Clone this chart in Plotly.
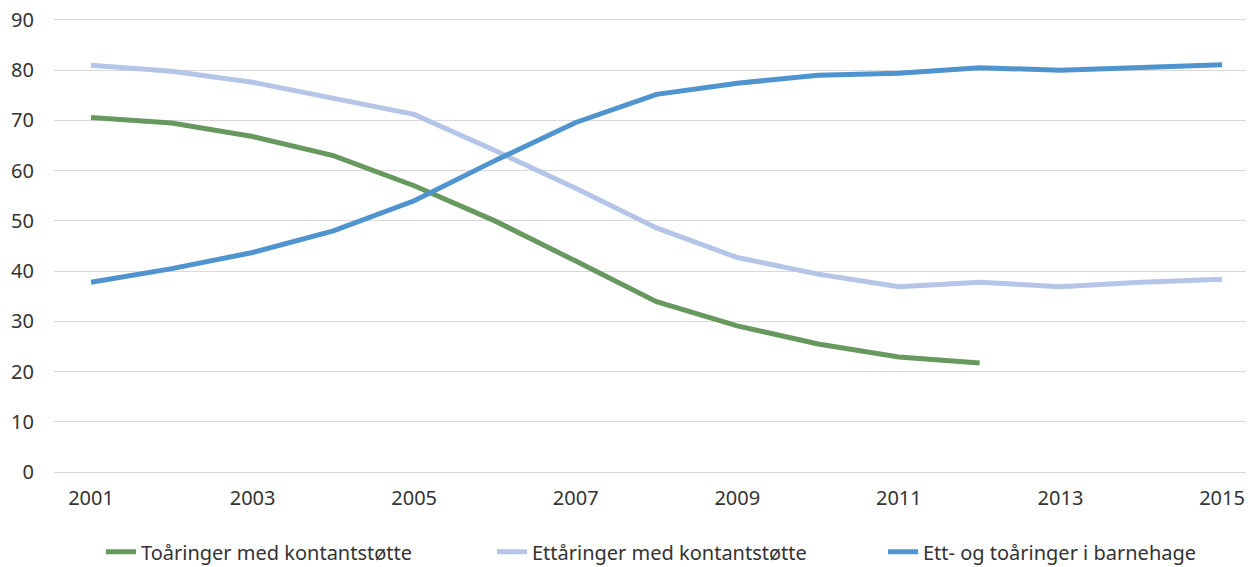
import plotly.graph_objects as go

years = list(range(2001, 2016))
toaringer_kontantstotte = [70.6, 69.5, 66.8, 63.0, 57.0, 50.0, 42.0, 33.9, 29.1, 25.5, 22.9, 21.7, None, None, None]
ettaringer_kontantstotte = [81.0, 79.8, 77.6, 74.4, 71.2, 64.0, 56.5, 48.6, 42.7, 39.4, 36.9, 37.8, 36.9, 37.8, 38.4]
barnehage = [37.8, 40.5, 43.7, 48.0, 54.0, 62.0, 69.6, 75.2, 77.4, 79.0, 79.4, 80.5, 80.0, 80.5, 81.1]
series_names = ["Toåringer med kontantstøtte", "Ettåringer med kontantstøtte", "Ett- og toåringer i barnehage"]
x_ticks = [2001, 2003, 2005, 2007, 2009, 2011, 2013, 2015]
y_ticks = [0, 10, 20, 30, 40, 50, 60, 70, 80, 90]

colors = ["#67995f", "#b4c5e7", "#4f93cf"]
FONT = "Noto Sans"
GRID = "#d9d9d9"

fig = go.Figure()
for name, vals, col in zip(series_names, [toaringer_kontantstotte, ettaringer_kontantstotte, barnehage], colors):
    fig.add_trace(go.Scatter(x=years, y=vals, name=name, mode="lines",
                             line=dict(color=col, width=5), connectgaps=False))

fig.update_layout(
    width=1246, height=559,
    margin=dict(l=46, r=0, t=12, b=95, autoexpand=False),
    paper_bgcolor="white", plot_bgcolor="white",
    font=dict(family=FONT, size=20, color="#333333"),
    showlegend=True,
    legend=dict(orientation="h", xref="container", yref="paper",
                x=0.0746, y=-0.1765, xanchor="left", yanchor="middle",
                entrywidth=346, entrywidthmode="pixels",
                font=dict(family=FONT, size=20, color="#333333"),
                bgcolor="rgba(0,0,0,0)"),
    xaxis=dict(range=[2000.542, 2015.396], tickmode="array", tickvals=x_ticks,
               ticktext=[str(t) for t in x_ticks], showgrid=False, zeroline=False,
               showline=True, mirror=True, linecolor=GRID, linewidth=1.3,
               ticks="outside", ticklen=8, tickcolor="rgba(0,0,0,0)",
               ticklabeloverflow="allow",
               tickfont=dict(family=FONT, size=20, color="#333333")),
    yaxis=dict(range=[0, 90], tickmode="array", tickvals=y_ticks,
               showgrid=True, gridcolor=GRID, gridwidth=1.3, zeroline=False,
               showline=False, ticks="outside", ticklen=15, tickcolor="rgba(0,0,0,0)",
               ticklabeloverflow="allow",
               tickfont=dict(family=FONT, size=20, color="#333333")),
)

fig.write_html("out.html")
